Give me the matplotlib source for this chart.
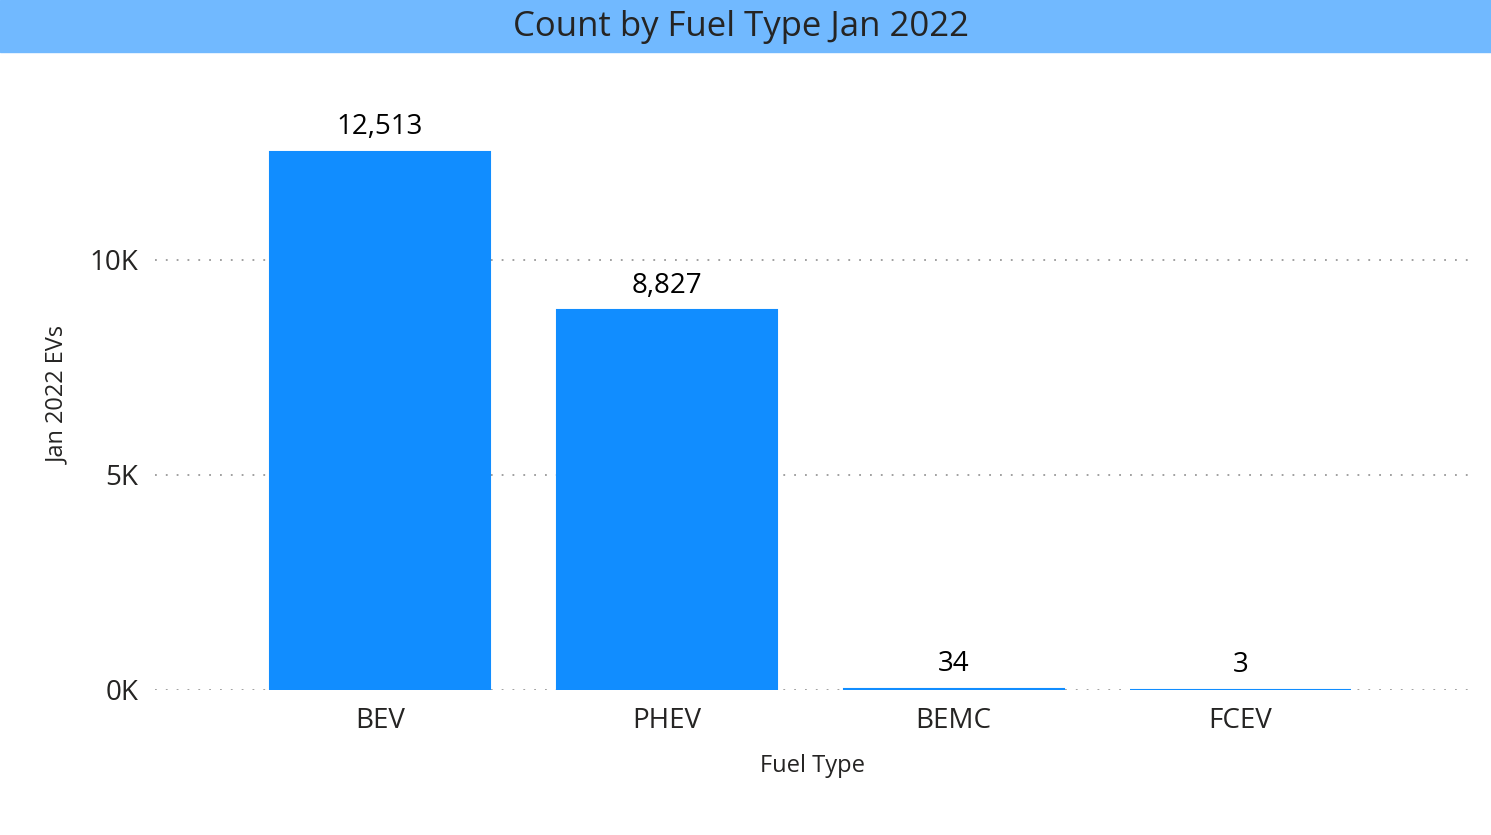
import matplotlib
matplotlib.use("Agg")
import matplotlib.pyplot as plt
from matplotlib.patches import Rectangle

categories = ["BEV", "PHEV", "BEMC", "FCEV"]
values = [12513, 8827, 34, 3]
yticks = [0, 5000, 10000]
ytick_labels = ["0K", "5K", "10K"]

W, H = 1491, 835
fig = plt.figure(figsize=(W/100, H/100), dpi=100)
fig.patches.append(Rectangle((0, 1-52/H), 1, 52/H, transform=fig.transFigure,
                             color="#71B9FF", zorder=0))
fig.text(0.497, 1-27/H, "Count by Fuel Type Jan 2022", ha="center", va="center",
         fontsize=25, color="#252423", family="Open Sans")

ax = fig.add_axes([155/W, 1-690/H, (1470-155)/W, (690-100)/H])
color = "#118DFF"
x = range(len(categories))
ax.bar(x, values, width=0.767, color=color, edgecolor=color, linewidth=1.5, zorder=3)
for xi, v in zip(x, values):
    ax.text(xi, v + 250, f"{v:,}", ha="center", va="bottom", fontsize=20,
            color="#000000", family="Open Sans")
ax.set_xlim(-0.784, 3.80)
ax.set_ylim(0, 13720)
ax.set_yticks(yticks)
ax.set_yticklabels(ytick_labels)
ax.set_xticks(list(x))
ax.set_xticklabels(categories)
ax.tick_params(length=0, labelsize=20, labelcolor="#252423", pad=12)
for t in ax.get_xticklabels() + ax.get_yticklabels():
    t.set_family("Open Sans")
ax.yaxis.grid(True, linestyle=(0, (1, 5)), color="#999999", linewidth=1.3, zorder=0)
for s in ax.spines.values():
    s.set_visible(False)
ax.set_xlabel("Fuel Type", fontsize=17, color="#252423", family="Open Sans", labelpad=14)
ax.set_ylabel("Jan 2022 EVs", fontsize=17, color="#252423", family="Open Sans", labelpad=14)
fig.savefig("out.png", dpi=100)
